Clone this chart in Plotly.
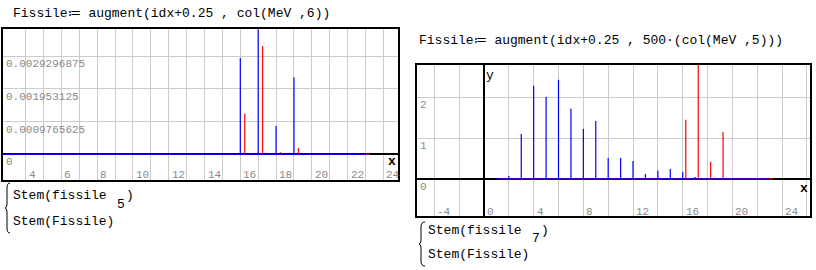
import plotly.graph_objects as go

W, H = 816, 270

# ---------------- data ----------------
U = 0.0009765625  # Mathcad grid step of the left chart

# left chart: Stem(fissile_5) and Stem(Fissile = augment(idx+0.25, col(MeV,6)))
idx = list(range(1, 24))
fissile5 = [0, 0, 0, 0, 0, 0, 0, 0, 0, 0, 0, 0, 0, 0, 0,
            0.002871, 0.003906, 0.000845, 0.002295,
            0, 0, 0, 0]
Fissile_left = [0, 0, 0, 0, 0, 0, 0, 0, 0, 0, 0, 0, 0, 0, 0,
                0.001221, 0.003232, 0.0000586, 0.000186,
                0, 0, 0, 0]

# right chart: Stem(fissile_7) and Stem(Fissile = augment(idx+0.25, 500*col(MeV,5)))
fissile7 = [0, 0.07, 1.10, 2.28, 2.01, 2.43, 1.72, 1.23, 1.42, 0.51, 0.51,
            0.44, 0.12, 0.20, 0.245, 0.17, 0.05, 0, 0, 0, 0, 0, 0]
Fissile_right = [0, 0, 0, 0, 0, 0, 0, 0, 0, 0, 0, 0, 0, 0, 0,
                 1.45, 3.2, 0.42, 1.15, 0, 0, 0, 0]

shift = 0.25

left_xticks = [4, 6, 8, 10, 12, 14, 16, 18, 20, 22, 24]
left_yticks = [0.0029296875, 0.001953125, 0.0009765625]
left_ylabels = ["0.0029296875", "0.001953125", "0.0009765625"]
right_xticks = [-4, 0, 4, 8, 12, 16, 20, 24]
right_yticks = [2, 1, 0]


def stem(xs, ys):
    px, py = [], []
    for x, y in zip(xs, ys):
        px += [x, x, x]
        py += [0, y, 0]
    return px, py


def PX(x):
    return x / W


def PY(y):
    return 1 - y / H


fig = go.Figure()

# left chart traces (red first, blue on top)
rx, ry = stem([i + shift for i in idx], Fissile_left)
fig.add_trace(go.Scatter(x=rx, y=ry, mode="lines", line=dict(color="#ff0000", width=1.2),
                         xaxis="x", yaxis="y", hoverinfo="skip"))
bx, by = stem(idx, fissile5)
fig.add_trace(go.Scatter(x=bx, y=by, mode="lines", line=dict(color="#0000ff", width=1.2),
                         xaxis="x", yaxis="y", hoverinfo="skip"))

# right chart traces
rx, ry = stem([i + shift for i in idx], Fissile_right)
fig.add_trace(go.Scatter(x=rx, y=ry, mode="lines", line=dict(color="#ff0000", width=1.2),
                         xaxis="x2", yaxis="y2", hoverinfo="skip"))
bx, by = stem(idx, fissile7)
fig.add_trace(go.Scatter(x=bx, y=by, mode="lines", line=dict(color="#0000ff", width=1.2),
                         xaxis="x2", yaxis="y2", hoverinfo="skip"))

grid = "#cccccc"
common = dict(showgrid=True, gridcolor=grid, gridwidth=1, showline=True, mirror=True,
              linecolor="black", linewidth=1.5, ticks="", showticklabels=False,
              fixedrange=True)

fig.update_layout(
    width=W, height=H, margin=dict(l=0, r=0, t=0, b=0),
    paper_bgcolor="white", plot_bgcolor="white", showlegend=False,
    xaxis=dict(domain=[PX(3.3), PX(397.7)], range=[2.75, 24.8],
               tickmode="array", tickvals=list(range(4, 25)), zeroline=False,
               anchor="y", **common),
    yaxis=dict(domain=[PY(180), PY(29.3)], range=[-0.786 * U, 3.82 * U],
               tickmode="linear", tick0=0, dtick=U, zeroline=True,
               zerolinecolor="black", zerolinewidth=1.5, anchor="x", **common),
    xaxis2=dict(domain=[PX(417.3), PX(810)], range=[-5.37, 26.25],
                tickmode="linear", tick0=0, dtick=2, zeroline=True,
                zerolinecolor="black", zerolinewidth=1.5, anchor="y2", **common),
    yaxis2=dict(domain=[PY(216), PY(65)], range=[-0.907, 2.79],
                tickmode="linear", tick0=0, dtick=1, zeroline=True,
                zerolinecolor="black", zerolinewidth=1.5, anchor="x2", **common),
)

ann = []
tickfont = dict(family="Liberation Mono", size=11, color="#8a8a8a")
mono = dict(family="Liberation Mono", size=13, color="black")

# left chart tick labels
for v in left_xticks:
    ann.append(dict(x=v, y=0, xref="x", yref="y domain", text=str(v), showarrow=False,
                    xanchor="left", yanchor="middle", xshift=1, yshift=5, font=tickfont))
for v, t in zip(left_yticks, left_ylabels):
    ann.append(dict(x=0, y=v, xref="x domain", yref="y", text=t, showarrow=False,
                    xanchor="left", yanchor="top", xshift=1, yshift=0, font=tickfont))
ann.append(dict(x=0, y=0, xref="x domain", yref="y", text="0", showarrow=False,
                xanchor="left", yanchor="top", xshift=1, yshift=0, font=tickfont))
ann.append(dict(x=1, y=0, xref="x domain", yref="y", text="<b>x</b>", showarrow=False,
                xanchor="right", yanchor="top", xshift=-1, yshift=1, borderpad=0,
                font=dict(family="Liberation Mono", size=13, color="black")))

# right chart tick labels
for v in right_xticks:
    ann.append(dict(x=v, y=0, xref="x2", yref="y2 domain", text=str(v), showarrow=False,
                    xanchor="left", yanchor="middle", xshift=1, yshift=4, font=tickfont))
for v in right_yticks:
    ann.append(dict(x=0, y=v, xref="x2 domain", yref="y2", text=str(v), showarrow=False,
                    xanchor="left", yanchor="top", xshift=1, yshift=0, font=tickfont))
ann.append(dict(x=1, y=0, xref="x2 domain", yref="y2", text="<b>x</b>", showarrow=False,
                xanchor="right", yanchor="top", xshift=-1, yshift=-1, borderpad=0,
                font=dict(family="Liberation Mono", size=13, color="black")))
ann.append(dict(x=0, y=1, xref="x2", yref="y2 domain", text="y", showarrow=False,
                xanchor="left", yanchor="top", xshift=0, yshift=-1, font=mono))

# formulas
def txt(x, y, t, font=mono):
    ann.append(dict(x=PX(x), y=PY(y), xref="paper", yref="paper", text=t, showarrow=False,
                    xanchor="left", yanchor="middle", font=font, borderpad=0))

txt(12, 14, "Fissile≔ augment(idx+0.25 , col(MeV ,6))")
txt(418, 40, "Fissile≔ augment(idx+0.25 , 500·(col(MeV ,5)))")

txt(12, 195, "Stem(fissile")
txt(116, 204, "5")
txt(125, 195, ")")
txt(12, 221, "Stem(Fissile)")

txt(427, 230, "Stem(fissile")
txt(531, 238, "7")
txt(540, 230, ")")
txt(427, 254, "Stem(Fissile)")

fig.update_layout(annotations=ann)


def brace(x0, x1, top, bot):
    mid = (top + bot) / 2
    xm = x0 + 2
    pts = [
        f"M {PX(x1)},{PY(top)}",
        f"Q {PX(xm)},{PY(top)} {PX(xm)},{PY(top + 5)}",
        f"L {PX(xm)},{PY(mid - 4)}",
        f"Q {PX(xm)},{PY(mid)} {PX(x0)},{PY(mid)}",
        f"Q {PX(xm)},{PY(mid)} {PX(xm)},{PY(mid + 4)}",
        f"L {PX(xm)},{PY(bot - 5)}",
        f"Q {PX(xm)},{PY(bot)} {PX(x1)},{PY(bot)}",
    ]
    return dict(type="path", xref="paper", yref="paper", path=" ".join(pts),
                line=dict(color="black", width=1))


fig.update_layout(shapes=[brace(5, 10, 183, 233), brace(419, 425, 222, 266)])

fig.write_html("out.html", config={"displayModeBar": False})
